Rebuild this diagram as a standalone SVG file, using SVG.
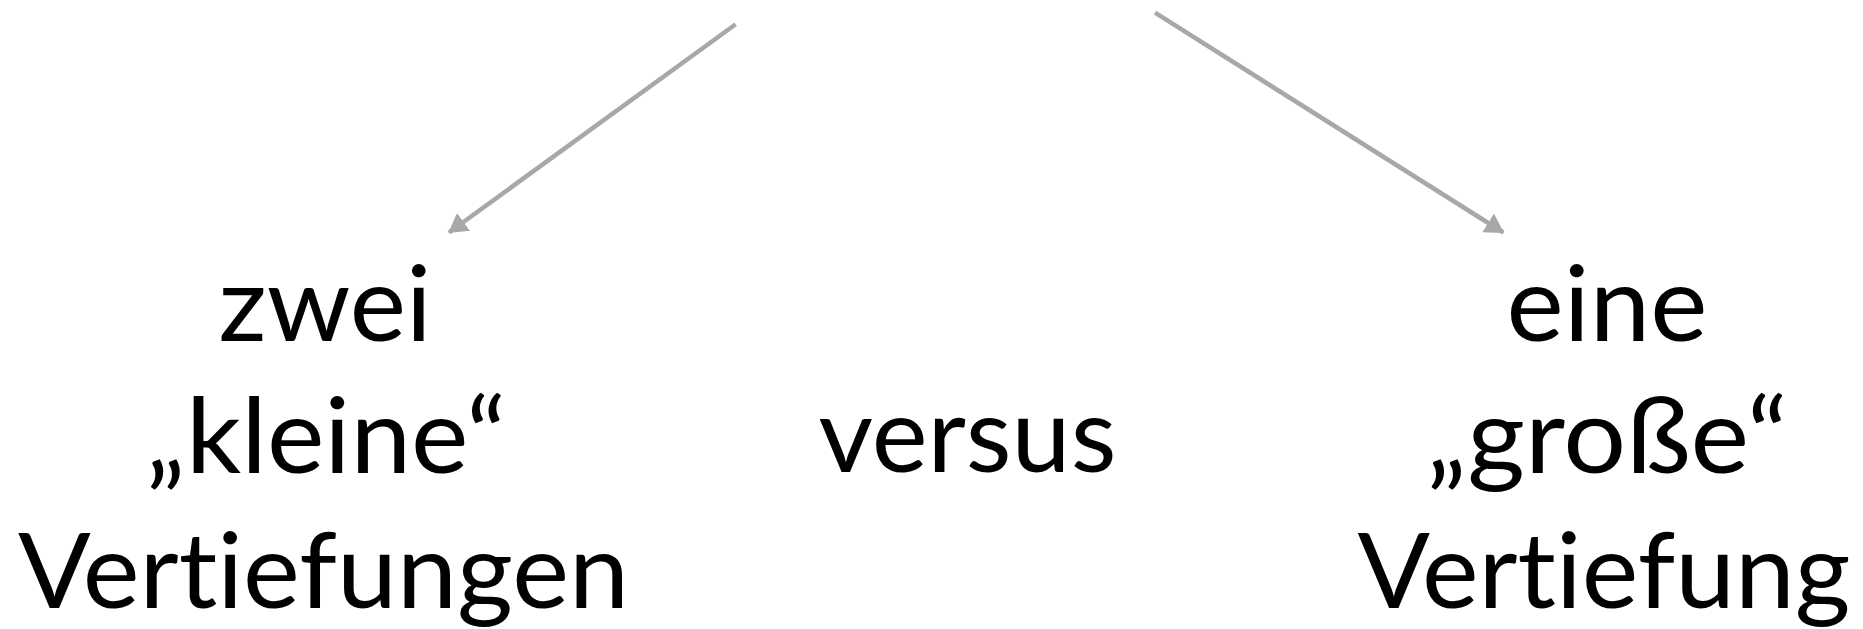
<svg xmlns="http://www.w3.org/2000/svg" width="1863" height="629" viewBox="0 0 1863 629">
<defs>
<marker id="ah" viewBox="0 0 19 22" refX="18" refY="11" markerWidth="19" markerHeight="22" markerUnits="userSpaceOnUse" orient="auto">
<path d="M0,0 L19,11 L0,22 Z" fill="#a8a8a8"/>
</marker>
<style>
.t{font-family:Lato,"Open Sans","Liberation Sans",sans-serif;font-size:104px;fill:#000;text-anchor:middle;font-variant-ligatures:none;font-feature-settings:"liga" 0,"clig" 0,"dlig" 0}
.c{stroke:#a8a8a8;stroke-width:4.5;fill:none}
</style>
</defs>
<rect width="1863" height="629" fill="#fff"/>
<g id="connectors">
<line class="c" x1="735.7" y1="24.3" x2="449" y2="232.5" marker-end="url(#ah)"/>
<line class="c" x1="1155" y1="12.7" x2="1503.3" y2="232.5" marker-end="url(#ah)"/>
</g>
<g id="left">
<text class="t" x="325" y="341" textLength="213" lengthAdjust="spacingAndGlyphs">zwei</text>
<text class="t" x="326" y="473" textLength="360" lengthAdjust="spacingAndGlyphs">„kleine“</text>
<text class="t" x="323.5" y="608" textLength="611" lengthAdjust="spacingAndGlyphs">Vertiefungen</text>
</g>
<g id="middle">
<text class="t" x="967.5" y="472" textLength="298" lengthAdjust="spacingAndGlyphs">versus</text>
</g>
<g id="right">
<text class="t" x="1607" y="341" textLength="201" lengthAdjust="spacingAndGlyphs">eine</text>
<text class="t" x="1607" y="473" textLength="361" lengthAdjust="spacingAndGlyphs">„große“</text>
<text class="t" x="1604" y="608" textLength="493" lengthAdjust="spacingAndGlyphs">Vertiefung</text>
</g>
</svg>
